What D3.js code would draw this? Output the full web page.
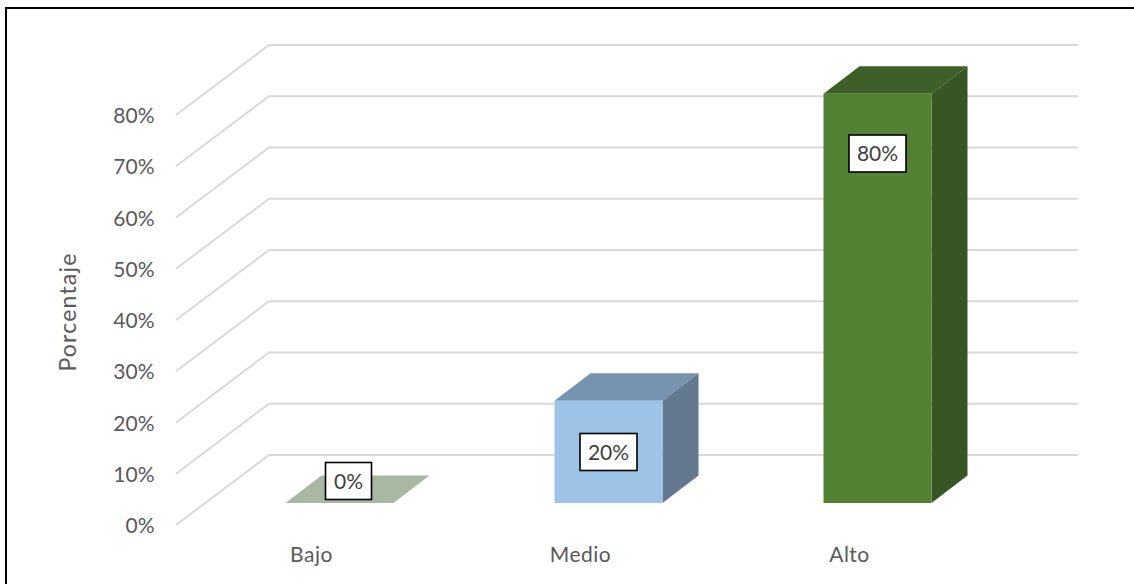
<!DOCTYPE html>
<html><head><meta charset="utf-8">
<script src="https://cdn.jsdelivr.net/npm/d3@7"></script>
<style>html,body{margin:0;padding:0;background:#fff;overflow:hidden}svg{display:block}text{font-family:Lato,"Noto Sans",sans-serif;fill:#595959}</style>
</head><body><div id="c"></div>
<script>
const categories = ["Bajo","Medio","Alto"];
const values = [0,20,80];
const valueLabels = ["0%","20%","80%"];
const frontColors = ["#a9b8a2","#9dc3e6","#548235"];
const topColors = ["#a9b8a2","#7693b0","#3f5f28"];
const sideColors = ["#a9b8a2","#64798f","#375623"];
const ticks = [0,10,20,30,40,50,60,70,80];

const W=1134,H=584;
const svg=d3.select("#c").append("svg").attr("width",W).attr("height",H);
svg.append("rect").attr("x",6).attr("y",8).attr("width",1200).attr("height",700).attr("fill","#fff").attr("stroke","#000").attr("stroke-width",2);

const y=d3.scaleLinear().domain([0,80]).range([525,115]);
const depth={x:93,y:-70};
const x=d3.scaleBand().domain(categories).range([151,1066]).paddingInner(0.5985).paddingOuter(0.5);
const barY=d3.scaleLinear().domain([0,80]).range([503,93.7]);
const barDepth={x:36,y:-27.5};

const grid=svg.append("g").attr("fill","none").attr("stroke","#d9d9d9").attr("stroke-width",2);
ticks.forEach(t=>{
  const p=d3.path();
  p.moveTo(176,y(t));
  p.lineTo(176+depth.x,y(t)+depth.y);
  p.lineTo(1078,y(t)+depth.y);
  grid.append("path").attr("d",p.toString());
});

const poly=pts=>"M"+pts.map(p=>p.join(",")).join("L")+"Z";
categories.forEach((c,i)=>{
  const a=x(c),b=a+x.bandwidth(),t=barY(values[i]),base=barY(0);
  svg.append("path").attr("fill",topColors[i])
    .attr("d",poly([[a,t],[b,t],[b+barDepth.x,t+barDepth.y],[a+barDepth.x,t+barDepth.y]]));
  if(values[i]>0){
    svg.append("path").attr("fill",sideColors[i])
      .attr("d",poly([[b,t],[b+barDepth.x,t+barDepth.y],[b+barDepth.x,base+barDepth.y],[b,base]]));
    svg.append("rect").attr("fill",frontColors[i]).attr("x",a).attr("width",x.bandwidth())
      .attr("y",t).attr("height",base-t);
  }
});

const labelH=37;
const labelCenterY=[481,452,153.5];
const labelShiftX=[9,0,0];
categories.forEach((c,i)=>{
  const w=valueLabels[i].length===2?46:57;
  const cx=x(c)+x.bandwidth()/2+labelShiftX[i];
  const cy=labelCenterY[i];
  svg.append("rect").attr("x",cx-w/2).attr("y",cy-labelH/2).attr("width",w).attr("height",labelH)
    .attr("fill","#fff").attr("stroke","#000").attr("stroke-width",1.6);
  svg.append("text").attr("x",cx).attr("y",cy+7.5).attr("text-anchor","middle").attr("font-size",21).style("fill","#404040").text(valueLabels[i]);
});

const yAxis=d3.axisLeft(y).tickValues(ticks).tickFormat(d=>d+"%").tickSize(0).tickPadding(0);
const gy=svg.append("g").attr("transform","translate(154.5,0)").call(yAxis);
gy.select(".domain").remove();
gy.selectAll("text").attr("font-size",21).attr("font-family",null).attr("dy","0.36em");

categories.forEach(c=>{
  svg.append("text").attr("x",x(c)+x.bandwidth()/2-28).attr("y",562).attr("text-anchor","middle")
    .attr("font-size",21).style("letter-spacing","0.5px").text(c);
});
svg.append("text").attr("transform","translate(76,312) rotate(-90)").attr("text-anchor","middle")
  .attr("font-size",23).style("letter-spacing","1.2px").text("Porcentaje");
</script></body></html>
